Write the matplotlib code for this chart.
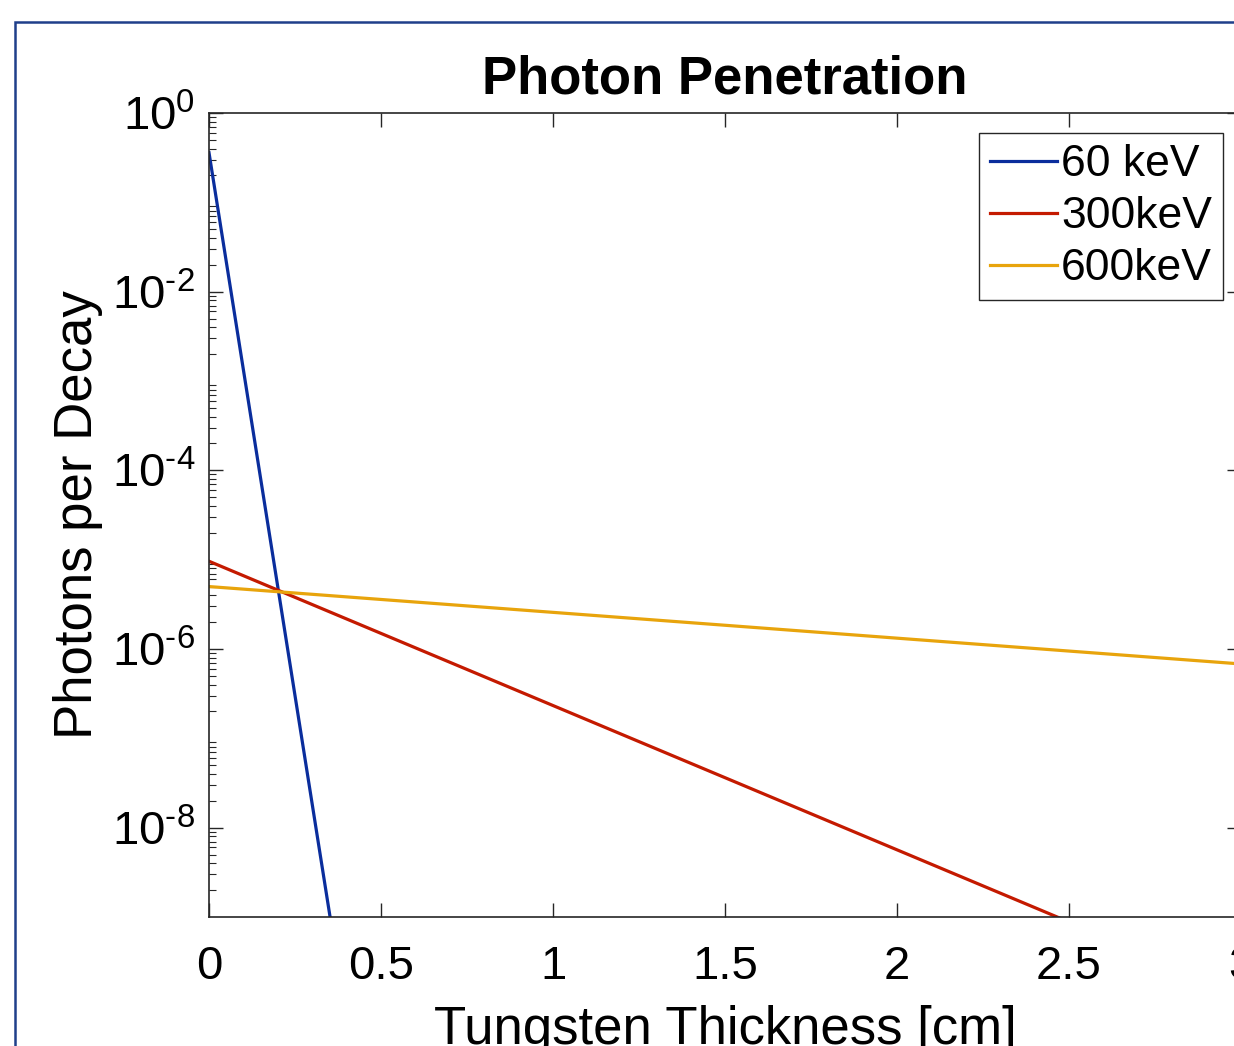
import matplotlib
matplotlib.use('Agg')
import matplotlib.pyplot as plt
from matplotlib.patches import Rectangle
from matplotlib.ticker import LogLocator, NullFormatter, FixedFormatter

# Values (thickness in cm, photons per decay)
thickness_60kev = [0.0, 0.4]
photons_60kev = [3.6e-1, 6.8e-11]

thickness_300kev = [0.0, 2.5]
photons_300kev = [9.6e-6, 8.8e-10]

thickness_600kev = [0.0, 3.0]
photons_600kev = [5.0e-6, 6.8e-7]

series_labels = ['60 keV', '300keV', '600keV']
series_colors = ['#0a2d9c', '#c41a00', '#e8a40c']

x_ticks = [0, 0.5, 1, 1.5, 2, 2.5, 3]
x_tick_labels = ['0', '0.5', '1', '1.5', '2', '2.5', '3']
y_ticks = [1e-8, 1e-6, 1e-4, 1e-2, 1e0]
y_exponents = ['-8', '-6', '-4', '-2', '0']

plt.rcParams['font.family'] = ['Liberation Sans', 'DejaVu Sans']
plt.rcParams['mathtext.fontset'] = 'custom'
plt.rcParams['mathtext.rm'] = 'Liberation Sans'
plt.rcParams['mathtext.default'] = 'regular'

W, H = 1234, 1046
fig = plt.figure(figsize=(W / 100, H / 100), dpi=100)

# blue frame of the cropped screenshot
fig.patches.append(Rectangle((15 / W, -0.1), 1.2, 1 - 22 / H + 0.1,
                             transform=fig.transFigure, fill=False,
                             edgecolor='#1f3f8a', linewidth=1.8))

ax = fig.add_axes([209 / W, 1 - 917 / H, (1241 - 209) / W, (917 - 113) / H])

for xs, ys, lab, col in zip([thickness_60kev, thickness_300kev, thickness_600kev],
                            [photons_60kev, photons_300kev, photons_600kev],
                            series_labels, series_colors):
    ax.plot(xs, ys, color=col, linewidth=2.3, label=lab)

ax.set_yscale('log')
ax.set_xlim(0, 3)
ax.set_ylim(1e-9, 1)
ax.set_xticks(x_ticks)
ax.set_xticklabels(x_tick_labels)
ax.set_yticks(y_ticks)
# MATLAB style exponents with a short hyphen
ax.yaxis.set_major_formatter(FixedFormatter(['$10^{\\text{%s}}$' % e for e in y_exponents]))
ax.yaxis.set_minor_locator(LogLocator(base=10, subs=range(2, 10), numticks=20))
ax.yaxis.set_minor_formatter(NullFormatter())

ax.tick_params(axis='both', which='both', direction='in', top=True, right=True,
               color='#262626', labelsize=34)
ax.tick_params(axis='x', which='major', length=10, width=1.0, pad=20)
ax.tick_params(axis='y', which='major', length=10, width=1.0, pad=10)
ax.tick_params(axis='y', which='minor', length=5, width=0.8)
for s in ax.spines.values():
    s.set_color('#262626')
    s.set_linewidth(1.2)

ax.set_title('Photon Penetration', fontsize=38, fontweight='bold', pad=14)
ax.set_xlabel('Tungsten Thickness [cm]', fontsize=38, labelpad=12)
ax.set_ylabel('Photons per Decay', fontsize=38, labelpad=6)

leg = ax.legend(loc='upper right', bbox_to_anchor=((1223 - 209) / (1241 - 209), 1 - 20 / 804),
                fontsize=32, frameon=True, fancybox=False, framealpha=1,
                handlelength=1.5, handletextpad=0.1, labelspacing=0.25,
                borderpad=0.25, borderaxespad=0)
leg.get_frame().set_edgecolor('#262626')
leg.get_frame().set_linewidth(1.0)

fig.savefig('out.png', dpi=100)
